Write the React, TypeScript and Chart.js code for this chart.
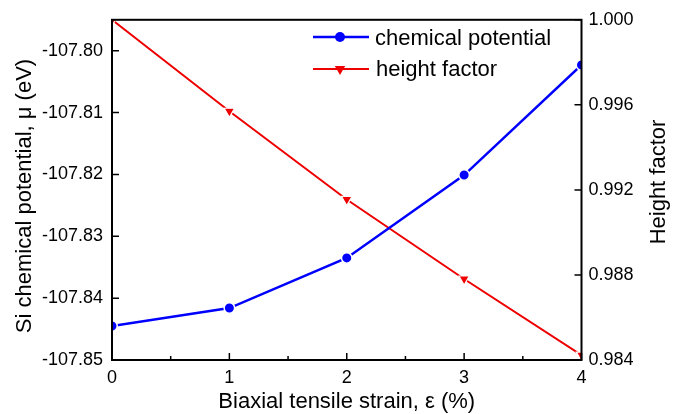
import { useEffect, useRef } from 'react';
import { Chart, registerables } from 'chart.js';

Chart.register(...registerables);

const strain = [0, 1, 2, 3, 4];
const chemicalPotential = [-107.8445, -107.8416, -107.8335, -107.8201, -107.8023];
const heightFactor = [1.0, 0.9957, 0.99155, 0.98781, 0.98423];
const xTicks = [0, 1, 2, 3, 4];
const xMinorTicks = [0.5, 1.5, 2.5, 3.5];
const leftTicks = [-107.85, -107.84, -107.83, -107.82, -107.81, -107.8];
const rightTicks = [0.984, 0.988, 0.992, 0.996, 1.0];
const seriesNames = ['chemical potential', 'height factor'];
const xTitle = 'Biaxial tensile strain, \u03b5 (%)';
const leftTitle = 'Si chemical potential, \u03bc (eV)';
const rightTitle = 'Height factor';

const FONT = '"Liberation Sans", Arial, sans-serif';
const BLUE = '#0000ff';
const RED = '#ee0000';

function drawTriangleDown(ctx: CanvasRenderingContext2D, x: number, y: number, r: number) {
  ctx.beginPath();
  ctx.moveTo(x, y + r);
  ctx.lineTo(x - r * Math.sin(Math.PI / 3), y - r * 0.5);
  ctx.lineTo(x + r * Math.sin(Math.PI / 3), y - r * 0.5);
  ctx.closePath();
  ctx.fill();
}

const decorPlugin = {
  id: 'decor',
  afterDatasetsDraw(chart: any) {
    const { ctx, chartArea: a, scales } = chart;
    ctx.save();
    ctx.strokeStyle = '#000';
    ctx.lineWidth = 2;
    ctx.strokeRect(a.left, a.top, a.right - a.left, a.bottom - a.top);
    ctx.lineWidth = 1.5;
    ctx.beginPath();
    xTicks.forEach((v) => {
      const px = scales.x.getPixelForValue(v);
      ctx.moveTo(px, a.bottom);
      ctx.lineTo(px, a.bottom - 7);
    });
    xMinorTicks.forEach((v) => {
      const px = scales.x.getPixelForValue(v);
      ctx.moveTo(px, a.bottom);
      ctx.lineTo(px, a.bottom - 4);
    });
    leftTicks.forEach((v) => {
      const py = scales.y.getPixelForValue(v);
      ctx.moveTo(a.left, py);
      ctx.lineTo(a.left + 7, py);
    });
    rightTicks.forEach((v) => {
      const py = scales.y1.getPixelForValue(v);
      ctx.moveTo(a.right, py);
      ctx.lineTo(a.right - 7, py);
    });
    ctx.stroke();

    // axis titles
    ctx.fillStyle = '#000';
    ctx.font = `22px ${FONT}`;
    ctx.textAlign = 'center';
    ctx.textBaseline = 'alphabetic';
    ctx.fillText(xTitle, (a.left + a.right) / 2, 408);

    ctx.save();
    ctx.translate(31, 196);
    ctx.rotate(-Math.PI / 2);
    ctx.fillText(leftTitle, 0, 0);
    ctx.restore();

    ctx.save();
    ctx.font = `22px ${FONT}`;
    ctx.translate(665, 182);
    ctx.rotate(-Math.PI / 2);
    ctx.fillText(rightTitle, 0, 0);
    ctx.restore();

    // legend
    ctx.font = `22px ${FONT}`;
    ctx.textAlign = 'left';
    ctx.lineWidth = 2.5;
    ctx.strokeStyle = BLUE;
    ctx.beginPath();
    ctx.moveTo(313, 37);
    ctx.lineTo(369, 37);
    ctx.stroke();
    ctx.fillStyle = BLUE;
    ctx.beginPath();
    ctx.arc(340, 37, 5, 0, Math.PI * 2);
    ctx.fill();
    ctx.fillStyle = '#000';
    ctx.fillText(seriesNames[0], 375, 44.5);

    ctx.lineWidth = 2;
    ctx.strokeStyle = RED;
    ctx.beginPath();
    ctx.moveTo(313, 69);
    ctx.lineTo(369, 69);
    ctx.stroke();
    ctx.fillStyle = RED;
    drawTriangleDown(ctx, 340, 69, 6);
    ctx.fillStyle = '#000';
    ctx.fillText(seriesNames[1], 376, 76);
    ctx.restore();
  },
};

export default function App() {
  const canvasRef = useRef<HTMLCanvasElement | null>(null);

  useEffect(() => {
    if (!canvasRef.current) return;
    const chart = new Chart(canvasRef.current, {
      type: 'line',
      data: {
        datasets: [
          {
            label: seriesNames[0],
            data: strain.map((x, i) => ({ x, y: chemicalPotential[i] })),
            yAxisID: 'y',
            borderColor: BLUE,
            backgroundColor: BLUE,
            borderWidth: 2.5,
            pointStyle: 'circle',
            pointRadius: 5.25,
            pointBackgroundColor: BLUE,
            pointBorderColor: '#ffffff',
            pointBorderWidth: 1.5,
            clip: 0,
            tension: 0,
          },
          {
            label: seriesNames[1],
            data: strain.map((x, i) => ({ x, y: heightFactor[i] })),
            yAxisID: 'y1',
            borderColor: RED,
            backgroundColor: RED,
            borderWidth: 2,
            pointStyle: 'triangle',
            rotation: 180,
            pointRadius: 6,
            pointBackgroundColor: RED,
            pointBorderColor: '#ffffff',
            pointBorderWidth: 1.2,
            clip: 0,
            tension: 0,
          },
        ],
      },
      options: {
        animation: false,
        responsive: true,
        maintainAspectRatio: false,
        layout: { padding: { top: 14, left: 0, right: 0, bottom: 0 } },
        plugins: { legend: { display: false }, tooltip: { enabled: false } },
        scales: {
          x: {
            type: 'linear',
            min: 0,
            max: 4,
            grid: { display: false, drawTicks: false },
            border: { display: false },
            afterBuildTicks: (s: any) => {
              s.ticks = xTicks.map((v) => ({ value: v }));
            },
            afterFit: (s: any) => {
              s.height = 54;
            },
            ticks: {
              color: '#000',
              font: { family: FONT, size: 18 },
              padding: 7,
              maxRotation: 0,
              autoSkip: false,
              callback: (v: any) => String(v),
            },
          },
          y: {
            type: 'linear',
            position: 'left',
            min: -107.85,
            max: -107.795,
            grid: { display: false, drawTicks: false },
            border: { display: false },
            afterBuildTicks: (s: any) => {
              s.ticks = leftTicks.map((v) => ({ value: v }));
            },
            afterFit: (s: any) => {
              s.width = 112;
            },
            ticks: {
              color: '#000',
              font: { family: FONT, size: 18 },
              padding: 9,
              autoSkip: false,
              callback: (v: any) => Number(v).toFixed(2),
            },
          },
          y1: {
            type: 'linear',
            position: 'right',
            min: 0.984,
            max: 1.0,
            grid: { display: false, drawTicks: false },
            border: { display: false },
            afterBuildTicks: (s: any) => {
              s.ticks = rightTicks.map((v) => ({ value: v }));
            },
            afterFit: (s: any) => {
              s.width = 98.5;
            },
            ticks: {
              color: '#000',
              font: { family: FONT, size: 18 },
              padding: 7,
              autoSkip: false,
              callback: (v: any) => Number(v).toFixed(3),
            },
          },
        },
      },
      plugins: [decorPlugin],
    } as any);
    return () => chart.destroy();
  }, []);

  return (
    <div style={{ position: 'absolute', left: 0, top: 0, width: 680, height: 414, background: '#fff' }}>
      <canvas ref={canvasRef} />
    </div>
  );
}
